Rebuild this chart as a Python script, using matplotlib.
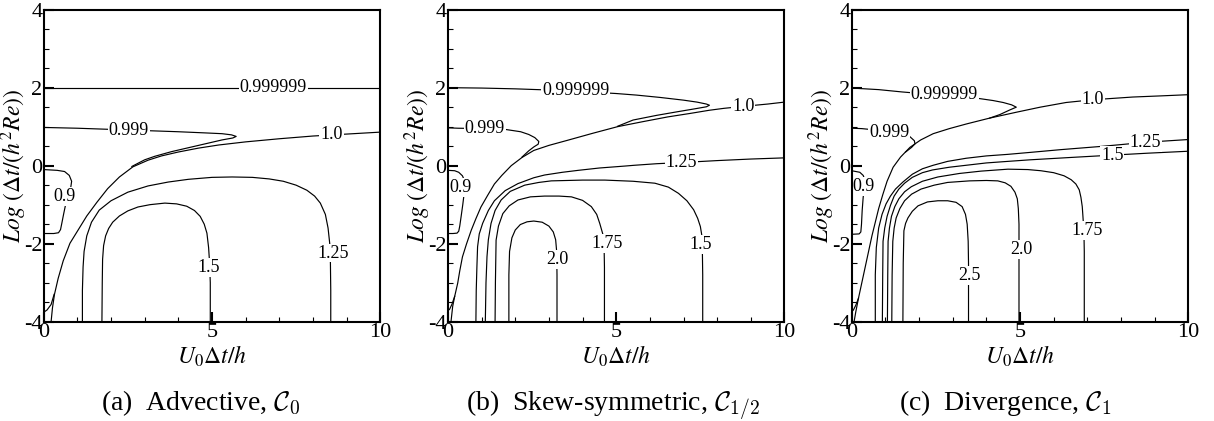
import matplotlib.pyplot as plt
from matplotlib.ticker import MultipleLocator

plt.rcParams['font.family'] = ['Liberation Serif', 'DejaVu Serif']
plt.rcParams['mathtext.fontset'] = 'stix'
plt.rcParams['axes.unicode_minus'] = False

# contour lines, (U0 dt/h, log(dt/(h^2 Re)))
# (a) advective
adv_0999999 = [(0.0, 2.0), (10.0, 2.0)]
adv_0999 = [(0.0, 0.98), (1.0, 0.96), (2.0, 0.93), (3.0, 0.9), (4.0, 0.87), (4.8, 0.84), (5.3, 0.82),
            (5.58, 0.79), (5.72, 0.75), (5.62, 0.71), (5.3, 0.66), (4.8, 0.56), (4.3, 0.46), (3.8, 0.36),
            (3.3, 0.24), (3.0, 0.15), (2.62, -0.02)]
adv_0999_low = [(0.31, -3.3), (0.22, -3.56), (0.1, -3.7), (0.0, -3.76)]
adv_100 = [(10.0, 0.86), (9.0, 0.81), (8.0, 0.76), (7.0, 0.69), (6.0, 0.61), (5.2, 0.53), (4.6, 0.45),
           (4.0, 0.35), (3.5, 0.25), (3.1, 0.14), (2.65, -0.03), (2.25, -0.29), (1.9, -0.59), (1.58, -0.94),
           (1.28, -1.29), (1.03, -1.64), (0.78, -1.99), (0.58, -2.44), (0.43, -2.89), (0.32, -3.3),
           (0.26, -3.65), (0.22, -4.0)]
adv_090 = [(0.0, -0.1), (0.4, -0.12), (0.62, -0.15), (0.76, -0.25), (0.83, -0.4), (0.8, -0.58), (0.73, -0.8),
           (0.65, -1.0), (0.59, -1.25), (0.54, -1.47), (0.5, -1.64), (0.44, -1.72), (0.3, -1.74), (0.0, -1.74)]
adv_125 = [(1.15, -4.0), (1.15, -3.2), (1.17, -2.6), (1.2, -2.2), (1.28, -1.8), (1.42, -1.45), (1.65, -1.14),
           (2.0, -0.9), (2.5, -0.68), (3.1, -0.52), (3.7, -0.42), (4.3, -0.35), (5.0, -0.3), (5.6, -0.29),
           (6.2, -0.3), (6.7, -0.34), (7.12, -0.4), (7.5, -0.5), (7.82, -0.63), (8.05, -0.78), (8.22, -0.96),
           (8.37, -1.25), (8.45, -1.6), (8.5, -2.0), (8.52, -2.5), (8.53, -3.2), (8.53, -4.0)]
adv_150 = [(1.73, -4.0), (1.74, -3.0), (1.75, -2.4), (1.78, -2.05), (1.84, -1.8), (1.93, -1.61), (2.05, -1.45),
           (2.25, -1.29), (2.5, -1.16), (2.8, -1.06), (3.16, -1.0), (3.6, -0.96), (3.95, -0.98), (4.25, -1.04),
           (4.48, -1.15), (4.65, -1.3), (4.77, -1.5), (4.85, -1.73), (4.9, -2.1), (4.93, -2.5), (4.95, -3.0),
           (4.95, -4.0)]
adv_labels = [("0.999999", 6.82, 2.0), ("0.999", 2.53, 0.91), ("1.0", 8.55, 0.8), ("0.9", 0.61, -0.79),
              ("1.5", 4.9, -2.62), ("1.25", 8.6, -2.24)]

# (b) skew-symmetric
skew_0999999 = [(0.0, 2.0), (1.0, 1.99), (2.0, 1.97), (3.0, 1.94), (4.0, 1.9), (5.0, 1.85), (5.6, 1.81),
                (6.3, 1.75), (7.0, 1.68), (7.4, 1.63), (7.68, 1.58), (7.77, 1.55), (7.68, 1.51), (7.35, 1.46),
                (6.8, 1.38), (6.2, 1.29), (5.5, 1.17), (5.04, 1.01)]
skew_0999 = [(0.0, 0.97), (0.3, 0.96), (1.1, 0.95), (1.7, 0.93), (2.16, 0.87), (2.4, 0.8), (2.58, 0.72),
             (2.7, 0.62), (2.68, 0.55), (2.55, 0.48), (2.4, 0.38), (2.2, 0.22)]
skew_0999_low = [(0.2, -3.35), (0.12, -3.55), (0.05, -3.68), (0.0, -3.72)]
skew_100 = [(10.0, 1.63), (9.5, 1.58), (8.77, 1.52), (8.2, 1.47), (7.76, 1.42), (7.2, 1.34), (6.53, 1.25),
            (5.8, 1.13), (5.04, 1.0), (4.3, 0.83), (3.55, 0.65), (3.0, 0.52), (2.55, 0.39), (2.2, 0.21),
            (1.88, 0.0), (1.6, -0.25), (1.38, -0.47), (1.18, -0.76), (0.98, -1.06), (0.83, -1.36), (0.69, -1.66),
            (0.55, -2.01), (0.43, -2.34), (0.35, -2.7), (0.29, -3.01), (0.2, -3.35), (0.14, -3.61), (0.09, -4.0)]
skew_090 = [(0.0, -0.12), (0.2, -0.13), (0.32, -0.17), (0.43, -0.26), (0.49, -0.38), (0.5, -0.55), (0.48, -0.72),
            (0.44, -1.0), (0.39, -1.31), (0.35, -1.55), (0.32, -1.68), (0.27, -1.73), (0.15, -1.74), (0.0, -1.74)]
skew_125 = [(0.83, -4.0), (0.84, -3.2), (0.86, -2.59), (0.88, -2.08), (0.93, -1.75), (1.03, -1.48), (1.2, -1.15),
            (1.38, -0.9), (1.7, -0.64), (2.08, -0.46), (2.55, -0.31), (2.87, -0.24), (3.4, -0.17), (3.87, -0.12),
            (4.5, -0.06), (5.26, -0.01), (5.54, 0.01), (6.2, 0.05), (6.93, 0.08), (8.0, 0.13), (9.0, 0.17),
            (10.0, 0.2)]
skew_150 = [(1.11, -4.0), (1.13, -3.0), (1.16, -2.33), (1.2, -1.9), (1.28, -1.48), (1.4, -1.15), (1.58, -0.88),
            (1.85, -0.66), (2.28, -0.5), (2.7, -0.43), (3.07, -0.39), (4.0, -0.37), (4.66, -0.37), (5.5, -0.4),
            (6.15, -0.45), (6.55, -0.55), (6.85, -0.71), (7.1, -0.9), (7.3, -1.13), (7.42, -1.35), (7.5, -1.56),
            (7.55, -1.82), (7.56, -2.2), (7.57, -2.8), (7.57, -4.0)]
skew_175 = [(1.4, -4.0), (1.41, -3.0), (1.43, -1.91), (1.5, -1.55), (1.63, -1.23), (1.82, -1.03), (2.08, -0.88),
            (2.45, -0.8), (2.87, -0.78), (3.3, -0.78), (3.67, -0.8), (4.0, -0.89), (4.26, -1.05), (4.42, -1.25),
            (4.51, -1.48), (4.6, -1.75), (4.64, -2.1), (4.65, -2.6), (4.65, -4.0)]
skew_200 = [(1.81, -4.0), (1.81, -2.8), (1.83, -2.2), (1.9, -1.85), (2.0, -1.65), (2.15, -1.51), (2.35, -1.44),
            (2.55, -1.42), (2.8, -1.45), (3.0, -1.55), (3.13, -1.7), (3.2, -1.9), (3.23, -2.2), (3.24, -2.8),
            (3.24, -4.0)]
skew_labels = [("0.999999", 3.8, 1.93), ("0.999", 1.1, 0.95), ("1.0", 8.77, 1.52), ("0.9", 0.36, -0.55),
               ("1.25", 6.93, 0.08), ("1.5", 7.52, -2.02), ("1.75", 4.74, -1.99), ("2.0", 3.25, -2.4)]

# (c) divergence
div_0999999 = [(0.0, 1.99), (0.8, 1.95), (1.5, 1.89), (2.2, 1.84), (2.75, 1.81), (3.3, 1.77), (3.8, 1.72),
               (4.2, 1.67), (4.5, 1.62), (4.75, 1.56), (4.89, 1.5), (4.7, 1.43), (4.4, 1.31), (4.1, 1.22)]
div_0999 = [(0.0, 0.96), (0.3, 0.95), (1.11, 0.88), (1.5, 0.83), (1.72, 0.75), (1.86, 0.64), (1.88, 0.56),
            (1.78, 0.47), (1.6, 0.35)]
div_0999_low = [(0.2, -3.4), (0.12, -3.58), (0.05, -3.7), (0.0, -3.75)]
div_100 = [(10.0, 1.82), (9.2, 1.79), (8.35, 1.76), (7.16, 1.69), (6.37, 1.62), (5.6, 1.5), (4.89, 1.37),
           (4.1, 1.22), (3.41, 1.07), (2.9, 0.95), (2.42, 0.82), (2.05, 0.66), (1.73, 0.47), (1.45, 0.22),
           (1.23, -0.04), (1.05, -0.4), (0.92, -0.75), (0.8, -1.1), (0.7, -1.45), (0.6, -1.8), (0.5, -2.2),
           (0.4, -2.6), (0.3, -3.0), (0.2, -3.4), (0.12, -3.75), (0.07, -4.0)]
div_090 = [(0.0, -0.13), (0.24, -0.17), (0.34, -0.25), (0.39, -0.36), (0.38, -0.55), (0.34, -0.81), (0.31, -1.15),
           (0.29, -1.5), (0.27, -1.7), (0.22, -1.75), (0.0, -1.76)]
div_125 = [(0.7, -4.0), (0.7, -2.8), (0.73, -2.1), (0.8, -1.6), (0.9, -1.25), (1.02, -0.98), (1.15, -0.78),
           (1.3, -0.6), (1.52, -0.42), (1.8, -0.22), (2.1, -0.08), (2.42, 0.01), (2.85, 0.11), (3.4, 0.19),
           (4.0, 0.25), (4.64, 0.29), (5.3, 0.34), (6.2, 0.41), (7.36, 0.49), (8.0, 0.54), (8.73, 0.6), (10.0, 0.67)]
div_150 = [(0.91, -4.0), (0.92, -2.8), (0.93, -1.94), (0.98, -1.6), (1.05, -1.3), (1.15, -1.02), (1.26, -0.78),
           (1.4, -0.6), (1.57, -0.45), (1.8, -0.3), (2.1, -0.18), (2.4, -0.11), (2.9, -0.04), (3.4, 0.01),
           (4.0, 0.07), (4.64, 0.11), (5.3, 0.15), (6.5, 0.21), (7.74, 0.27), (8.8, 0.32), (10.0, 0.37)]
div_175 = [(1.06, -4.0), (1.07, -2.8), (1.08, -1.94), (1.12, -1.6), (1.18, -1.3), (1.28, -1.05), (1.4, -0.85),
           (1.57, -0.67), (1.77, -0.54), (2.1, -0.4), (2.56, -0.29), (3.2, -0.2), (3.84, -0.14), (4.64, -0.09),
           (5.23, -0.1), (5.62, -0.13), (6.0, -0.18), (6.31, -0.26), (6.52, -0.36), (6.66, -0.47), (6.76, -0.62),
           (6.81, -0.81), (6.85, -1.05), (6.87, -1.3), (6.9, -1.7), (6.91, -2.2), (6.91, -4.0)]
div_200 = [(1.19, -4.0), (1.2, -2.8), (1.22, -1.94), (1.26, -1.6), (1.32, -1.34), (1.43, -1.1), (1.57, -0.9),
           (1.78, -0.73), (2.06, -0.6), (2.45, -0.5), (2.85, -0.43), (3.5, -0.39), (4.0, -0.38), (4.34, -0.39),
           (4.56, -0.44), (4.73, -0.53), (4.85, -0.68), (4.92, -0.85), (4.95, -1.1), (4.97, -1.5), (4.97, -2.2),
           (4.97, -4.0)]
div_250 = [(1.52, -4.0), (1.53, -2.5), (1.55, -1.67), (1.6, -1.48), (1.67, -1.34), (1.8, -1.17), (1.97, -1.03),
           (2.25, -0.93), (2.56, -0.9), (2.85, -0.9), (3.1, -0.94), (3.28, -1.05), (3.38, -1.25), (3.43, -1.5),
           (3.46, -1.94), (3.47, -2.5), (3.47, -4.0)]
div_labels = [("0.999999", 2.75, 1.82), ("0.999", 1.11, 0.86), ("1.0", 7.16, 1.69), ("0.9", 0.34, -0.53),
              ("1.25", 8.73, 0.6), ("1.5", 7.74, 0.27), ("1.75", 7.0, -1.66), ("2.0", 5.03, -2.16),
              ("2.5", 3.49, -2.81)]

panels = [
    ([adv_0999999, adv_0999, adv_0999_low, adv_100, adv_090, adv_125, adv_150], adv_labels,
     r'(a)  Advective, $\mathcal{C}_0$', 0.036, 0.165),
    ([skew_0999999, skew_0999, skew_0999_low, skew_100, skew_090, skew_125, skew_150, skew_175, skew_200],
     skew_labels, r'(b)  Skew-symmetric, $\mathcal{C}_{1/2}$', 0.369, 0.505),
    ([div_0999999, div_0999, div_0999_low, div_100, div_090, div_125, div_150, div_175, div_200, div_250],
     div_labels, r'(c)  Divergence, $\mathcal{C}_1$', 0.7016, 0.828),
]

fig = plt.figure(figsize=(12.14, 4.21), dpi=100)

for curves, labels, caption, left, cap_x in panels:
    ax = fig.add_axes([left, 0.236, 0.2772, 0.741])
    for pts in curves:
        xs = [p[0] for p in pts]
        ys = [p[1] for p in pts]
        ax.plot(xs, ys, color='black', lw=0.85, solid_joinstyle='round')
    for text, x, y in labels:
        ax.text(x, y, text, ha='center', va='center', fontsize=13, zorder=3,
                bbox=dict(facecolor='white', edgecolor='none', pad=0.6))
    ax.set_xlim(0, 10)
    ax.set_ylim(-4, 4)
    ax.xaxis.set_major_locator(MultipleLocator(5))
    ax.xaxis.set_minor_locator(MultipleLocator(1))
    ax.yaxis.set_major_locator(MultipleLocator(2))
    ax.yaxis.set_minor_locator(MultipleLocator(0.5))
    ax.tick_params(which='both', direction='in', top=False, right=False, labelsize=16)
    ax.tick_params(which='major', length=7, width=1.5)
    ax.tick_params(which='minor', length=3.5, width=0.8)
    ax.tick_params(axis='x', pad=1)
    ax.tick_params(axis='y', pad=1)
    for s in ax.spines.values():
        s.set_linewidth(1.5)
        s.set_zorder(4)
    ax.set_xlabel(r'$U_{\mathit{0}}\Delta t/h$', fontsize=17)
    ax.set_ylabel(r'$Log\ (\Delta t/(h^2 Re))$', fontsize=17)
    ax.xaxis.set_label_coords(0.5, -0.07)
    ax.yaxis.set_label_coords(-0.045, 0.5)
    fig.text(cap_x, 0.025, caption, ha='center', va='baseline', fontsize=20, math_fontfamily='cm')

fig.savefig('out.png', dpi=100)
